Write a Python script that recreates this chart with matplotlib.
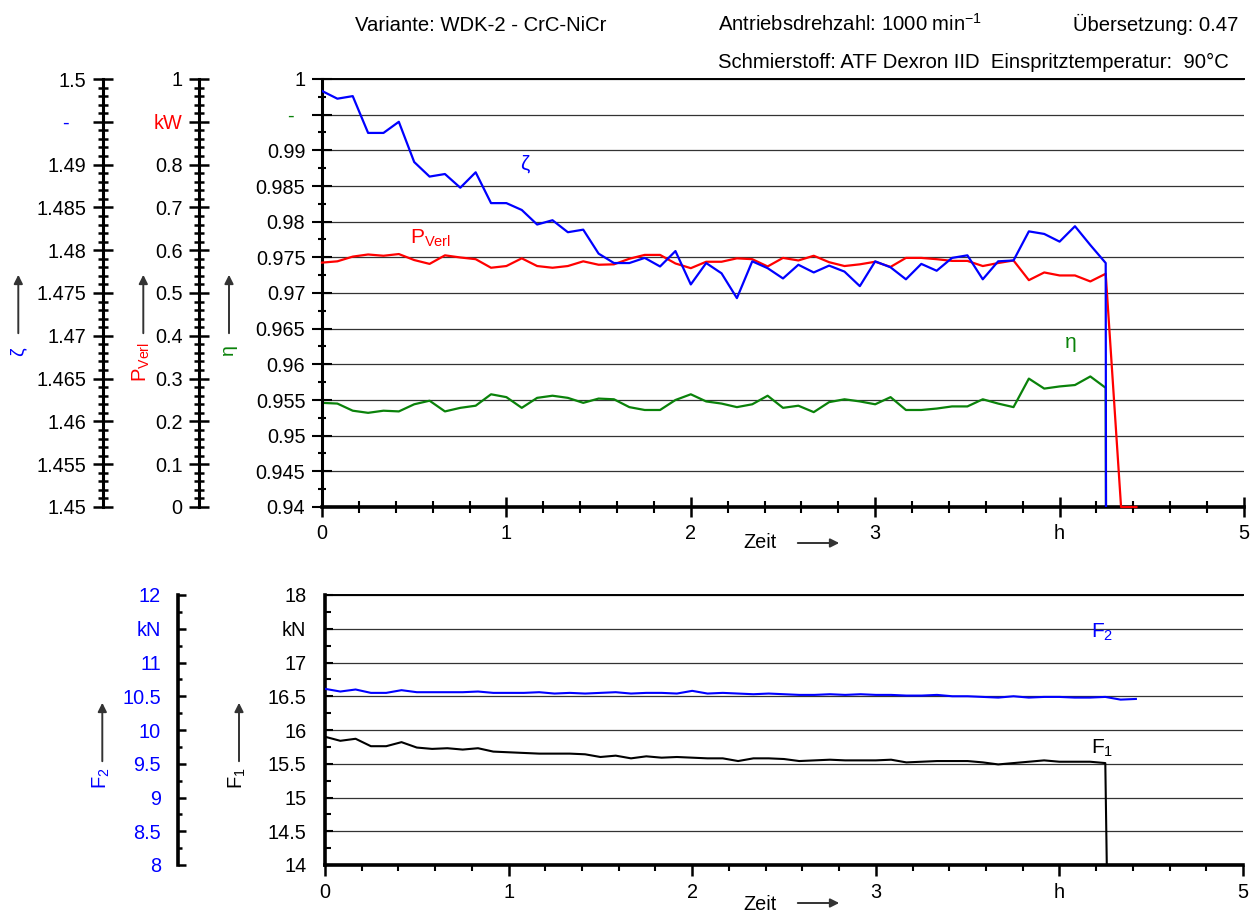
import numpy as np
import matplotlib
matplotlib.use("Agg")
import matplotlib.pyplot as plt
from matplotlib.ticker import FixedLocator, MultipleLocator
from matplotlib.patches import FancyArrowPatch

plt.rcParams['font.family'] = ['Liberation Sans', 'DejaVu Sans']
plt.rcParams['font.size'] = 14.3
plt.rcParams['mathtext.default'] = 'regular'

W, H = 1254, 914

# measuring interval: every 5 min
time_h = np.arange(0, 270, 5) / 60.0

zeta = [1.4986, 1.4977, 1.4980, 1.4937, 1.4937, 1.4950, 1.4903, 1.4886, 1.4889, 1.4873,
        1.4891, 1.4855, 1.4855, 1.4847, 1.4830, 1.4835, 1.4821, 1.4824, 1.4796, 1.4785,
        1.4785, 1.4791, 1.4781, 1.4799, 1.4760, 1.4785, 1.4773, 1.4744, 1.4787, 1.4779,
        1.4767, 1.4783, 1.4774, 1.4782, 1.4775, 1.4758, 1.4787, 1.4780, 1.4766, 1.4784,
        1.4776, 1.4791, 1.4794, 1.4766, 1.4787, 1.4788, 1.4822, 1.4819, 1.4810, 1.4828,
        1.4806, 1.4785, 0.0, 0.0]

p_verl = [0.571, 0.574, 0.585, 0.590, 0.587, 0.591, 0.577, 0.568, 0.588, 0.583,
          0.579, 0.559, 0.563, 0.581, 0.563, 0.559, 0.563, 0.574, 0.566, 0.567,
          0.580, 0.589, 0.589, 0.569, 0.558, 0.573, 0.573, 0.581, 0.579, 0.562,
          0.582, 0.576, 0.587, 0.572, 0.563, 0.567, 0.573, 0.561, 0.582, 0.582,
          0.579, 0.575, 0.575, 0.563, 0.570, 0.576, 0.530, 0.548, 0.541, 0.541,
          0.527, 0.545, 0.0, 0.0]

eta = [0.9546, 0.9545, 0.9535, 0.9532, 0.9535, 0.9534, 0.9544, 0.9549, 0.9534, 0.9539,
       0.9542, 0.9558, 0.9554, 0.9539, 0.9553, 0.9556, 0.9553, 0.9546, 0.9552, 0.9551,
       0.9540, 0.9536, 0.9536, 0.9550, 0.9558, 0.9548, 0.9545, 0.9540, 0.9544, 0.9556,
       0.9539, 0.9542, 0.9533, 0.9547, 0.9551, 0.9548, 0.9544, 0.9554, 0.9536, 0.9536,
       0.9538, 0.9541, 0.9541, 0.9551, 0.9545, 0.9540, 0.9580, 0.9566, 0.9569, 0.9571,
       0.9583, 0.9567, 0.0, 0.0]

f1 = [15.90, 15.84, 15.87, 15.76, 15.76, 15.82, 15.74, 15.72, 15.73, 15.71,
      15.73, 15.68, 15.67, 15.66, 15.65, 15.65, 15.65, 15.64, 15.60, 15.62,
      15.58, 15.61, 15.59, 15.60, 15.59, 15.58, 15.58, 15.54, 15.58, 15.58,
      15.57, 15.54, 15.55, 15.56, 15.55, 15.55, 15.55, 15.56, 15.52, 15.53,
      15.54, 15.54, 15.54, 15.52, 15.49, 15.51, 15.53, 15.55, 15.53, 15.53,
      15.53, 15.51, 0.0, 0.0]

f2 = [10.61, 10.57, 10.60, 10.55, 10.55, 10.59, 10.56, 10.56, 10.56, 10.56,
      10.57, 10.55, 10.55, 10.55, 10.56, 10.54, 10.55, 10.54, 10.55, 10.56,
      10.54, 10.55, 10.55, 10.54, 10.58, 10.54, 10.55, 10.54, 10.53, 10.54,
      10.53, 10.52, 10.52, 10.53, 10.52, 10.53, 10.52, 10.52, 10.51, 10.51,
      10.52, 10.50, 10.50, 10.49, 10.48, 10.50, 10.48, 10.49, 10.49, 10.48,
      10.48, 10.49, 10.45, 10.46]

x_ticks = [0, 1, 2, 3, 4, 5]
x_labels = ['0', '1', '2', '3', 'h', '5']
eta_ticks = [1.0, 0.995, 0.99, 0.985, 0.98, 0.975, 0.97, 0.965, 0.96, 0.955, 0.95, 0.945, 0.94]
eta_labels = ['1', '-  ', '0.99', '0.985', '0.98', '0.975', '0.97', '0.965', '0.96', '0.955', '0.95', '0.945', '0.94']
zeta_ticks = [1.5, 1.495, 1.49, 1.485, 1.48, 1.475, 1.47, 1.465, 1.46, 1.455, 1.45]
zeta_labels = ['1.5', '-   ', '1.49', '1.485', '1.48', '1.475', '1.47', '1.465', '1.46', '1.455', '1.45']
p_ticks = [1.0, 0.9, 0.8, 0.7, 0.6, 0.5, 0.4, 0.3, 0.2, 0.1, 0.0]
p_labels = ['1', 'kW', '0.8', '0.7', '0.6', '0.5', '0.4', '0.3', '0.2', '0.1', '0']
f1_ticks = [18, 17.5, 17, 16.5, 16, 15.5, 15, 14.5, 14]
f1_labels = ['18', 'kN', '17', '16.5', '16', '15.5', '15', '14.5', '14']
f2_ticks = [12, 11.5, 11, 10.5, 10, 9.5, 9, 8.5, 8]
f2_labels = ['12', 'kN', '11', '10.5', '10', '9.5', '9', '8.5', '8']

BLUE = '#0000ff'
RED = '#ff0000'
GREEN = '#0a820a'
ARROW = '#333333'


def fx(px):
    return px / W


def fy(py):
    return 1 - py / H


def arrow(x, y0, y1):
    fig.add_artist(FancyArrowPatch((fx(x), fy(y0)), (fx(x), fy(y1)), transform=fig.transFigure,
                                   arrowstyle='-|>', mutation_scale=13, color=ARROW, lw=1.4))


def harrow(x0, x1, y):
    fig.add_artist(FancyArrowPatch((fx(x0), fy(y)), (fx(x1), fy(y)), transform=fig.transFigure,
                                   arrowstyle='-|>', mutation_scale=13, color=ARROW, lw=1.4))


def only_left(a, pos=None):
    for s in ['top', 'right', 'bottom']:
        a.spines[s].set_visible(False)
    a.spines['left'].set_visible(True)
    a.spines['left'].set_linewidth(2.2)
    if pos is not None:
        a.spines['left'].set_position(('axes', pos))
    a.yaxis.set_ticks_position('left')
    a.yaxis.set_label_position('left')


fig = plt.figure(figsize=(W / 100, H / 100), dpi=100)

# ---------------- top chart ----------------
L, R, T, B = 322, 1244, 79, 507
ax = fig.add_axes([fx(L), fy(B), fx(R) - fx(L), fy(T) - fy(B)])
ax.set_xlim(0, 5)
ax.set_ylim(0.94, 1.0)
ax.yaxis.set_major_locator(FixedLocator(eta_ticks))
ax.set_yticklabels(eta_labels)
ax.yaxis.set_minor_locator(MultipleLocator(0.0025))
ax.xaxis.set_major_locator(FixedLocator(x_ticks))
ax.set_xticklabels(x_labels)
ax.xaxis.set_minor_locator(MultipleLocator(0.2))
ax.grid(axis='y', which='major', color='0.2', lw=0.9)
ax.spines['right'].set_visible(False)
ax.spines['top'].set_linewidth(1.4)
ax.spines['left'].set_linewidth(2.2)
ax.spines['bottom'].set_linewidth(2.6)
ax.tick_params(axis='y', which='major', direction='inout', length=14, width=1.5, pad=5)
ax.tick_params(axis='y', which='minor', direction='inout', length=6, width=1.5)
ax.tick_params(axis='x', which='major', direction='inout', length=14, width=1.8, pad=5)
ax.tick_params(axis='x', which='minor', direction='inout', length=8, width=1.5)
ax.get_yticklabels()[1].set_color(GREEN)
ax.plot(time_h, eta, color=GREEN, lw=1.6)
ax.text(4.06, 0.963, 'η', color=GREEN, ha='center', va='center', fontsize=15)

ax_p = ax.twinx()
ax_p.set_ylim(0, 1)
only_left(ax_p, -(L - 199.3) / (R - L))
ax_p.yaxis.set_major_locator(FixedLocator(p_ticks))
ax_p.set_yticklabels(p_labels)
ax_p.yaxis.set_minor_locator(MultipleLocator(0.02))
ax_p.tick_params(axis='y', which='major', direction='inout', length=14, width=1.8, pad=5)
ax_p.tick_params(axis='y', which='minor', direction='inout', length=7, width=1.8)
ax_p.get_yticklabels()[1].set_color(RED)
ax_p.plot(time_h, p_verl, color=RED, lw=1.6, clip_on=False)
ax_p.text(0.475, 0.628, r'P$_{Verl}$', color=RED, ha='left', va='center', fontsize=15)

ax_z = ax.twinx()
ax_z.set_ylim(1.45, 1.5)
only_left(ax_z, -(L - 102.7) / (R - L))
ax_z.yaxis.set_major_locator(FixedLocator(zeta_ticks))
ax_z.set_yticklabels(zeta_labels)
ax_z.yaxis.set_minor_locator(MultipleLocator(0.001))
ax_z.tick_params(axis='y', which='major', direction='inout', length=14, width=1.8, pad=5)
ax_z.tick_params(axis='y', which='minor', direction='inout', length=7, width=1.8)
ax_z.get_yticklabels()[1].set_color(BLUE)
ax_z.plot(time_h, zeta, color=BLUE, lw=1.6)
ax_z.text(1.10, 1.490, 'ζ', color=BLUE, ha='center', va='center', fontsize=15)

# axis names with arrows (top)
fig.text(fx(18), fy(352), 'ζ', color=BLUE, rotation=90, ha='center', va='center', fontsize=14)
fig.text(fx(141), fy(362), r'P$_{Verl}$', color=RED, rotation=90, ha='center', va='center', fontsize=14.5)
fig.text(fx(228), fy(350), 'η', color=GREEN, rotation=90, ha='center', va='center', fontsize=14)
for xa in (18.3, 143.3, 229):
    arrow(xa, 336, 272)
fig.text(fx(760), fy(543), 'Zeit', ha='center', va='center')
harrow(795, 842, 543)

# ---------------- bottom chart ----------------
L2, R2, T2, B2 = 325, 1243, 595, 865
ax2 = fig.add_axes([fx(L2), fy(B2), fx(R2) - fx(L2), fy(T2) - fy(B2)])
ax2.set_xlim(0, 5)
ax2.set_ylim(14, 18)
ax2.yaxis.set_major_locator(FixedLocator(f1_ticks))
ax2.set_yticklabels(f1_labels)
ax2.yaxis.set_minor_locator(MultipleLocator(0.25))
ax2.xaxis.set_major_locator(FixedLocator(x_ticks))
ax2.set_xticklabels(x_labels)
ax2.xaxis.set_minor_locator(MultipleLocator(0.2))
ax2.grid(axis='y', which='major', color='0.2', lw=0.9)
ax2.spines['right'].set_visible(False)
ax2.spines['top'].set_linewidth(1.4)
ax2.spines['left'].set_linewidth(2.6)
ax2.spines['bottom'].set_linewidth(2.6)
ax2.tick_params(axis='y', which='major', direction='in', length=6, width=1.5, pad=13.5)
ax2.tick_params(axis='y', which='minor', direction='in', length=4, width=1.5)
ax2.tick_params(axis='x', which='major', direction='out', length=8, width=1.8, pad=5)
ax2.tick_params(axis='x', which='minor', direction='out', length=4.5, width=1.5)
ax2.plot(time_h, f1, color='black', lw=1.5)
ax2.text(4.17, 15.73, r'F$_{1}$', color='black', ha='left', va='center', fontsize=15)

ax2b = ax2.twinx()
ax2b.set_ylim(8, 12)
only_left(ax2b, -(L2 - 178.3) / (R2 - L2))
ax2b.spines['left'].set_linewidth(2.6)
ax2b.yaxis.set_major_locator(FixedLocator(f2_ticks))
ax2b.set_yticklabels(f2_labels)
ax2b.yaxis.set_minor_locator(MultipleLocator(0.25))
ax2b.tick_params(axis='y', which='major', direction='in', length=6, width=1.8, pad=12.5,
                 labelcolor=BLUE)
ax2b.tick_params(axis='y', which='minor', direction='in', length=3, width=1.8)
ax2b.plot(time_h, f2, color=BLUE, lw=1.5)
ax2b.text(4.17, 11.44, r'F$_{2}$', color=BLUE, ha='left', va='center', fontsize=15)

fig.text(fx(101.7), fy(778), r'F$_{2}$', color=BLUE, rotation=90, ha='center', va='center', fontsize=14.5)
fig.text(fx(237), fy(778), r'F$_{1}$', color='black', rotation=90, ha='center', va='center', fontsize=14.5)
for xa in (102.3, 239):
    arrow(xa, 764, 700)
fig.text(fx(760), fy(905), 'Zeit', ha='center', va='center')
harrow(795, 842, 903)

# ---------------- header ----------------
fig.text(fx(355), fy(31), 'Variante: WDK-2 - CrC-NiCr', ha='left', va='baseline', fontsize=14.6)
fig.text(fx(718), fy(31), r'Antriebsdrehzahl: 1000 min$^{-1}$', ha='left', va='baseline', fontsize=14.6)
fig.text(fx(1238), fy(31), 'Übersetzung: 0.47', ha='right', va='baseline', fontsize=14.6)
fig.text(fx(718), fy(68), 'Schmierstoff: ATF Dexron IID  Einspritztemperatur:  90°C', ha='left', va='baseline',
         fontsize=14.6)

fig.savefig('out.png', dpi=100)
